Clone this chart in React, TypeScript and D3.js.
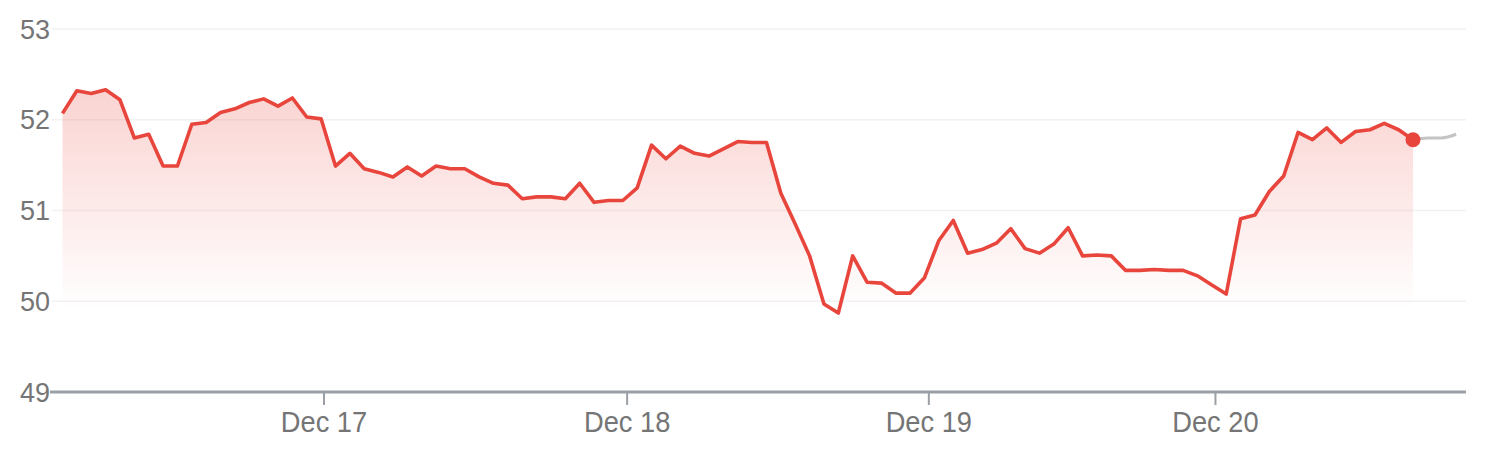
import * as d3 from 'd3';
import { useEffect, useRef } from 'react';

// price points, one per interval (index 0..94)
const prices = [
  52.07, 52.32, 52.29, 52.33, 52.22, 51.80, 51.84, 51.49, 51.49, 51.95,
  51.97, 52.08, 52.12, 52.19, 52.23, 52.15, 52.24, 52.03, 52.01, 51.49,
  51.63, 51.46, 51.42, 51.37, 51.48, 51.38, 51.49, 51.46, 51.46, 51.37,
  51.30, 51.28, 51.13, 51.15, 51.15, 51.13, 51.30, 51.09, 51.11, 51.11,
  51.25, 51.72, 51.57, 51.71, 51.63, 51.60, 51.68, 51.76, 51.75, 51.75,
  51.19, 50.85, 50.50, 49.97, 49.87, 50.50, 50.21, 50.20, 50.09, 50.09,
  50.26, 50.67, 50.89, 50.53, 50.57, 50.64, 50.80, 50.58, 50.53, 50.63,
  50.81, 50.50, 50.51, 50.50, 50.34, 50.34, 50.35, 50.34, 50.34, 50.28,
  50.18, 50.08, 50.91, 50.95, 51.21, 51.38, 51.86, 51.78, 51.91, 51.75,
  51.87, 51.89, 51.96, 51.89, 51.78,
];
// after-hours tail (grey), starting at the last price index
const extended = [51.78, 51.80, 51.80, 51.84];

const yTicks = [49, 50, 51, 52, 53];
const dayLabels = ['Dec 17', 'Dec 18', 'Dec 19', 'Dec 20'];
const dayPositions = [18.2, 39.3, 60.3, 80.25]; // in interval units

const W = 1500;
const H = 459;
const RED = '#e8453c';
const FONT = '"Liberation Sans", Arial, sans-serif';

export default function App() {
  const svgRef = useRef<SVGSVGElement>(null);

  useEffect(() => {
    const svg = d3.select(svgRef.current);
    svg.selectAll('*').remove();

    const plotLeft = 52;
    const plotRight = 1466;

    const x = d3.scaleLinear().domain([0, 94]).range([62.5, 1413]);
    const y = d3.scaleLinear().domain([49, 53]).range([392, 29]);

    const defs = svg.append('defs');
    const grad = defs
      .append('linearGradient')
      .attr('id', 'fillGrad')
      .attr('gradientUnits', 'userSpaceOnUse')
      .attr('x1', 0)
      .attr('x2', 0)
      .attr('y1', y(52.4))
      .attr('y2', y(49.9));
    grad.append('stop').attr('offset', 0).attr('stop-color', RED).attr('stop-opacity', 0.24);
    grad.append('stop').attr('offset', 1).attr('stop-color', RED).attr('stop-opacity', 0);

    // gridlines
    svg
      .append('g')
      .selectAll('line')
      .data(yTicks.filter((t) => t !== 49))
      .enter()
      .append('line')
      .attr('x1', plotLeft)
      .attr('x2', plotRight)
      .attr('y1', (d) => y(d))
      .attr('y2', (d) => y(d))
      .attr('stroke', '#f2f2f2')
      .attr('stroke-width', 1.5);

    // y labels
    svg
      .append('g')
      .selectAll('text')
      .data(yTicks)
      .enter()
      .append('text')
      .attr('x', 20)
      .attr('y', (d) => y(d))
      .attr('dy', '0.36em')
      .attr('font-family', FONT)
      .attr('font-size', 27)
      .attr('fill', '#757575')
      .text((d) => d);

    // area
    const area = d3
      .area<number>()
      .x((_, i) => x(i))
      .y0(y(49))
      .y1((d) => y(d));
    svg.append('path').datum(prices).attr('d', area).attr('fill', 'url(#fillGrad)');

    // after-hours line
    const extLine = d3
      .line<number>()
      .x((_, i) => x(94 + i))
      .y((d) => y(d))
      .curve(d3.curveMonotoneX);
    svg
      .append('path')
      .datum(extended)
      .attr('d', extLine)
      .attr('fill', 'none')
      .attr('stroke', '#c4c4c4')
      .attr('stroke-width', 3);

    // price line
    const line = d3
      .line<number>()
      .x((_, i) => x(i))
      .y((d) => y(d));
    svg
      .append('path')
      .datum(prices)
      .attr('d', line)
      .attr('fill', 'none')
      .attr('stroke', RED)
      .attr('stroke-width', 3.6)
      .attr('stroke-linejoin', 'round');

    // x axis
    const axis = svg.append('g');
    axis
      .append('line')
      .attr('x1', plotLeft - 2)
      .attr('x2', plotRight)
      .attr('y1', y(49))
      .attr('y2', y(49))
      .attr('stroke', '#9aa0a6')
      .attr('stroke-width', 3);
    const ticks = axis
      .selectAll('g.tick')
      .data(dayLabels)
      .enter()
      .append('g')
      .attr('transform', (_, i) => `translate(${x(dayPositions[i])},${y(49)})`);
    ticks
      .append('line')
      .attr('y1', 0)
      .attr('y2', 13)
      .attr('stroke', '#9aa0a6')
      .attr('stroke-width', 2);
    ticks
      .append('text')
      .attr('y', 40)
      .attr('text-anchor', 'middle')
      .attr('font-family', FONT)
      .attr('font-size', 29)
      .attr('transform', 'scale(0.94,1)')
      .attr('fill', '#757575')
      .text((d) => d);

    // last-price dot
    svg
      .append('circle')
      .attr('cx', x(94))
      .attr('cy', y(prices[94]))
      .attr('r', 7.5)
      .attr('fill', RED);
  }, []);

  return (
    <svg
      ref={svgRef}
      width={W}
      height={H}
      style={{ position: 'absolute', left: 0, top: 0, background: '#fff' }}
    />
  );
}
